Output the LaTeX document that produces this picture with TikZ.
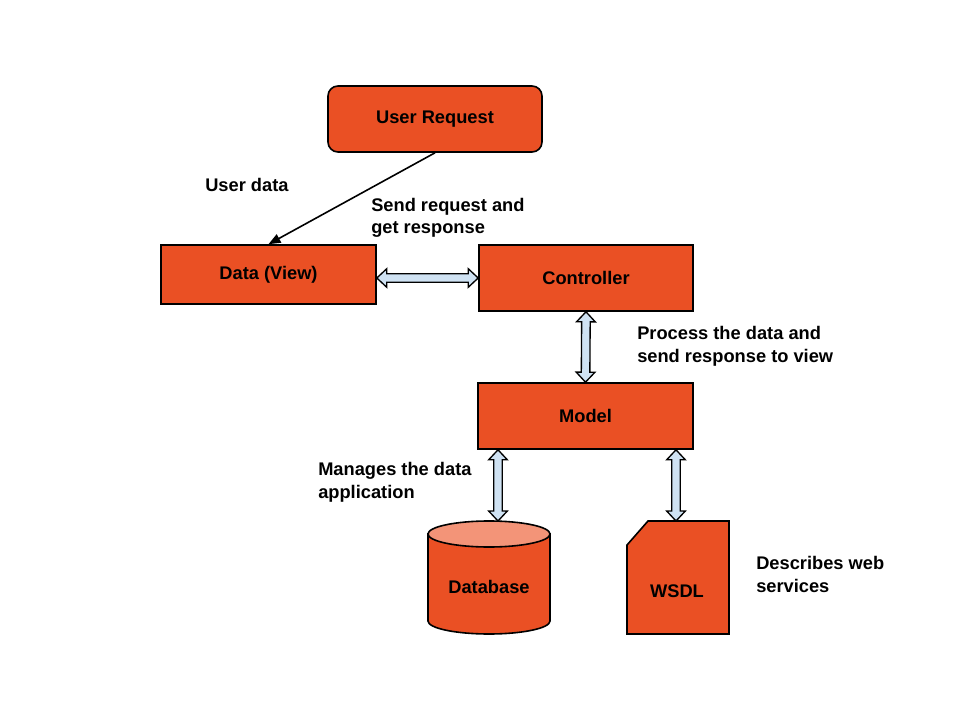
\documentclass[tikz,border=0pt]{standalone}
\usepackage{fontspec}
\setmainfont{Liberation Sans}
\usetikzlibrary{calc,arrows.meta}
\definecolor{boxor}{RGB}{234,80,36}
\definecolor{dbtop}{RGB}{243,148,120}
\definecolor{arrblue}{RGB}{207,226,243}
\newcommand\dblarr[2]{%
 \filldraw[arrfill] (#1) -- ($(#1)!7.5pt!(#2)!7pt!90:(#2)$) -- ($(#1)!7.5pt!(#2)!3.2pt!90:(#2)$)
 -- ($(#2)!7.5pt!(#1)!3.2pt!-90:(#1)$) -- ($(#2)!7.5pt!(#1)!7pt!-90:(#1)$) -- (#2)
 -- ($(#2)!7.5pt!(#1)!7pt!90:(#1)$) -- ($(#2)!7.5pt!(#1)!3.2pt!90:(#1)$)
 -- ($(#1)!7.5pt!(#2)!3.2pt!-90:(#2)$) -- ($(#1)!7.5pt!(#2)!7pt!-90:(#2)$) -- cycle;}
\tikzset{
 box/.style={draw=black, fill=boxor, line width=1.2pt, inner sep=0pt, font=\bfseries},
 lbl/.style={inner sep=0pt, anchor=west, align=left, font=\bfseries},
 arrfill/.style={draw=black, fill=arrblue, line width=1pt, line join=miter},
}
\begin{document}
\begin{tikzpicture}[x=0.75pt,y=-0.75pt]
\fontsize{13.7}{16.9}\selectfont
\useasboundingbox[fill=white] (0,0) rectangle (960,720);
% boxes
\node[box, rounded corners=7.5pt, minimum width=160.5pt, minimum height=49.5pt] (ur) at (435,119) {User Request};
\node[box, minimum width=161.25pt, minimum height=44.25pt] (dv) at (268.5,274.5) {Data (View)};
\node[box, minimum width=160.5pt, minimum height=49.5pt] (ctrl) at (586,278) {Controller};
\node[box, minimum width=161.25pt, minimum height=49.5pt] (model) at (585.5,416) {Model};
% database cylinder
\filldraw[fill=boxor, draw=black, line width=1.2pt] (428,534) -- (428,621) arc[start angle=180, end angle=0, x radius=61, y radius=13] -- (550,534) -- cycle;
\filldraw[fill=dbtop, draw=black, line width=1.2pt] (489,534) ellipse[x radius=61, y radius=13];
\node[inner sep=0pt, font=\bfseries] (db) at (489,587) {Database};
\coordinate (dbtopc) at (498,521);
% WSDL
\filldraw[fill=boxor, draw=black, line width=1.2pt] (648,521) -- (729,521) -- (729,634) -- (627,634) -- (627,545) -- cycle;
\node[inner sep=0pt, font=\bfseries] (wsdl) at (677,591) {WSDL};
\coordinate (wsdltop) at (676,521);
% connectors
\draw[line width=1.2pt, -{Triangle[length=9pt,width=7pt]}] (ur.south) -- (dv.north);
\coordinate (dvE) at (dv.east |- ctrl.west);
\dblarr{dvE}{ctrl.west}
\dblarr{ctrl.south}{model.north}
\coordinate (mS1) at (model.south -| dbtopc);
\dblarr{mS1}{dbtopc}
\coordinate (mS2) at (model.south -| wsdltop);
\dblarr{mS2}{wsdltop}
% labels
\node[lbl] (l1) at (205,184.5) {User data};
\node[lbl] (l2) at (371,218) {Send request and\\get response};
\node[lbl] (l3) at (637,346.5) {Process the data and\\send response to view};
\node[lbl] (l4) at (318,482.5) {Manages the data\\application};
\node[lbl] (l5) at (756,574.5) {Describes web\\services};
\end{tikzpicture}
\end{document}
